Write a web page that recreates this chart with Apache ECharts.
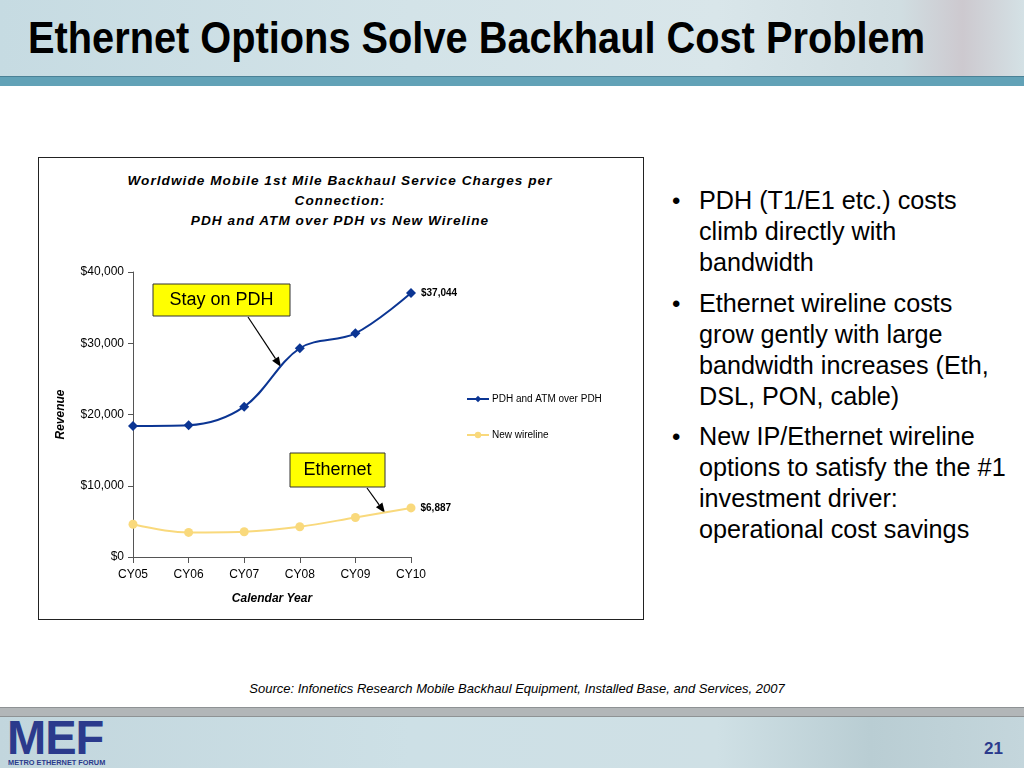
<!DOCTYPE html>
<html>
<head>
<meta charset="utf-8">
<script src="https://cdn.jsdelivr.net/npm/echarts@6/dist/echarts.min.js"></script>
<style>
  html, body { margin:0; padding:0; width:1024px; height:768px; overflow:hidden; background:#fff; font-family:"Liberation Sans", Arial, sans-serif; }
  #header { position:absolute; left:0; top:0; width:1024px; height:76px;
    background: linear-gradient(90deg, #c6dbe2 0%, #d3e3e8 40%, #d9e6ea 70%, #d0dde1 88%, #cdc9cf 94%, #d4e1e5 100%); }
  #tealbar { position:absolute; left:0; top:76px; width:1024px; height:10px; background:#62a2b7; border-top:1px solid #4a8196; box-sizing:border-box; }
  #title { position:absolute; left:28px; top:16px; font-weight:bold; font-size:44px; line-height:44px; color:#000; white-space:nowrap; transform-origin:0 0; }
  #footbar { position:absolute; left:0; top:707px; width:1024px; height:10px; background:#b2b6b8; border-top:1px solid #8e9294; border-bottom:1px solid #8e9294; box-sizing:border-box; }
  #footer { position:absolute; left:0; top:717px; width:1024px; height:51px;
    background: linear-gradient(90deg, #c2d6dd 0%, #cde0e6 40%, #cfe0e5 70%, #b9cdd3 85%, #c4d6dc 100%); }
  #mef { position:absolute; left:7px; top:714px; font-weight:bold; font-size:48px; line-height:48px; color:#2b3a8c; letter-spacing:-1px; transform:scaleX(0.98); transform-origin:0 0; }
  #mefsub { position:absolute; left:8px; top:758px; font-weight:bold; font-size:8px; line-height:9px; color:#2b3a8c; white-space:nowrap; transform:scaleX(0.92); transform-origin:0 0; }
  #pnum { position:absolute; left:984px; top:739px; font-weight:bold; font-size:17px; color:#2b3a8c; }
  #chartbox { position:absolute; left:38px; top:157px; width:606px; height:463px; border:1px solid #222; box-sizing:border-box; }
  #ctitle { position:absolute; left:40px; width:600px; top:171px; text-align:center; font-weight:bold; font-style:italic; font-size:13.6px; line-height:20px; letter-spacing:1.05px; color:#000; white-space:nowrap; }
  #bullets { position:absolute; left:672px; top:185px; font-size:25.2px; line-height:31px; color:#000; }
  .b { position:relative; padding-left:27px; margin-bottom:9.5px; white-space:nowrap; }
  .b:before { content:"\2022"; position:absolute; left:0; top:0; font-size:24px; }
  #source { position:absolute; left:0; width:1034px; top:681px; text-align:center; font-style:italic; font-size:13px; color:#000; }
  #chart { position:absolute; left:0; top:0; width:1024px; height:768px; }
</style>
</head>
<body>
<div id="header"></div>
<div id="tealbar"></div>
<div id="title">Ethernet Options Solve Backhaul Cost Problem</div>
<div id="chartbox"></div>
<div id="ctitle"></div>
<div id="bullets">
  <div class="b">PDH (T1/E1 etc.) costs<br>climb directly with<br>bandwidth</div>
  <div class="b">Ethernet wireline costs<br>grow gently with large<br>bandwidth increases (Eth,<br>DSL, PON, cable)</div>
  <div class="b">New IP/Ethernet wireline<br>options to satisfy the the #1<br>investment driver:<br>operational cost savings</div>
</div>
<div id="source">Source: Infonetics Research Mobile Backhaul Equipment, Installed Base, and Services, 2007</div>
<div id="footbar"></div>
<div id="footer"></div>
<div id="mef">MEF</div>
<div id="mefsub">METRO ETHERNET FORUM</div>
<div id="pnum">21</div>
<div id="chart"></div>
<script>
// ---- data ----
const categories = ["CY05", "CY06", "CY07", "CY08", "CY09", "CY10"];
const pdhValues = [18400, 18500, 21100, 29300, 31400, 37044];
const wirelineValues = [4600, 3450, 3550, 4250, 5550, 6887];
const seriesNames = ["PDH and ATM over PDH", "New wireline"];
const yTicks = { min: 0, max: 40000, interval: 10000 };
const chartTitleLines = ["Worldwide Mobile 1st Mile Backhaul Service Charges per", "Connection:", "PDH and ATM over PDH vs New Wireline"];

document.getElementById('ctitle').innerHTML = chartTitleLines.join('<br>');

// fit slide title width
(function(){
  const t = document.getElementById('title');
  const w = t.getBoundingClientRect().width;
  t.style.transform = 'scaleX(' + (897 / w) + ')';
})();

function money(v){ return '$' + Math.round(v).toLocaleString('en-US'); }

const chart = echarts.init(document.getElementById('chart'), null, { renderer: 'canvas' });
const FONT = '"Liberation Sans", Arial, sans-serif';

function arrow(x1, y1, x2, y2) {
  const ang = Math.atan2(y2 - y1, x2 - x1);
  const L = 10, W = 4;
  const bx = x2 - L * Math.cos(ang), by = y2 - L * Math.sin(ang);
  const px = -Math.sin(ang) * W, py = Math.cos(ang) * W;
  return [
    { type: 'line', shape: { x1: x1, y1: y1, x2: bx, y2: by }, style: { stroke: '#000', lineWidth: 1.2 } },
    { type: 'polygon', shape: { points: [[x2, y2], [bx + px, by + py], [bx - px, by - py]] }, style: { fill: '#000' } }
  ];
}

function labelBox(x, y, w, h, text) {
  return [
    { type: 'rect', shape: { x: x, y: y, width: w, height: h }, style: { fill: '#ffff00', stroke: '#333', lineWidth: 1 }, z: 10 },
    { type: 'text', x: x + w / 2, y: y + h / 2, style: { text: text, font: '18px ' + FONT, fill: '#000', textAlign: 'center', textVerticalAlign: 'middle' }, z: 11 }
  ];
}

const option = {
  animation: false,
  legend: {
    orient: 'vertical', left: 461, top: 389,
    itemWidth: 22, itemHeight: 8, itemGap: 26,
    data: seriesNames,
    textStyle: { fontFamily: FONT, fontSize: 10, color: '#000', padding: [0, 0, 0, -2] }
  },
  grid: { left: 133, right: 613, top: 272, bottom: 211, containLabel: false },
  xAxis: {
    type: 'category', data: categories, boundaryGap: false,
    name: 'Calendar Year', nameLocation: 'middle', nameGap: 36,
    nameTextStyle: { fontFamily: FONT, fontSize: 12, fontWeight: 'bold', fontStyle: 'italic', color: '#000' },
    axisLine: { lineStyle: { color: '#555', width: 1 } },
    axisTick: { alignWithLabel: true, length: 6, lineStyle: { color: '#555' } },
    axisLabel: { fontFamily: FONT, fontSize: 12, color: '#000', margin: 12 }
  },
  yAxis: {
    type: 'value', min: yTicks.min, max: yTicks.max, interval: yTicks.interval,
    name: 'Revenue', nameLocation: 'middle', nameGap: 66,
    nameTextStyle: { fontFamily: FONT, fontSize: 12, fontWeight: 'bold', fontStyle: 'italic', color: '#000' },
    axisLine: { show: true, lineStyle: { color: '#555', width: 1 } },
    axisTick: { show: true, length: 5, lineStyle: { color: '#555' } },
    splitLine: { show: false },
    axisLabel: { fontFamily: FONT, fontSize: 12, color: '#000', margin: 9, formatter: function(v){ return money(v); } }
  },
  series: [
    {
      name: seriesNames[0], type: 'line', data: pdhValues, smooth: 0.35,
      symbol: 'diamond', symbolSize: 10,
      lineStyle: { color: '#0b3593', width: 2 },
      itemStyle: { color: '#0b3593' },
      label: { show: true, position: 'right', distance: 5, fontFamily: FONT, fontSize: 10, fontWeight: 'bold', color: '#000',
        formatter: function(p){ return p.dataIndex === pdhValues.length - 1 ? money(p.value) : ''; } }
    },
    {
      name: seriesNames[1], type: 'line', data: wirelineValues, smooth: 0.35,
      symbol: 'circle', symbolSize: 9,
      lineStyle: { color: '#f9d97c', width: 2 },
      itemStyle: { color: '#f9d97c' },
      label: { show: true, position: 'right', distance: 5, fontFamily: FONT, fontSize: 10, fontWeight: 'bold', color: '#000',
        formatter: function(p){ return p.dataIndex === wirelineValues.length - 1 ? money(p.value) : ''; } }
    }
  ],
  graphic: [].concat(
    labelBox(153, 284, 137, 32, 'Stay on PDH'),
    arrow(248, 317, 281, 367),
    labelBox(290, 453, 95, 34, 'Ethernet'),
    arrow(367, 488, 385, 513)
  )
};
chart.setOption(option);
</script>
</body>
</html>
